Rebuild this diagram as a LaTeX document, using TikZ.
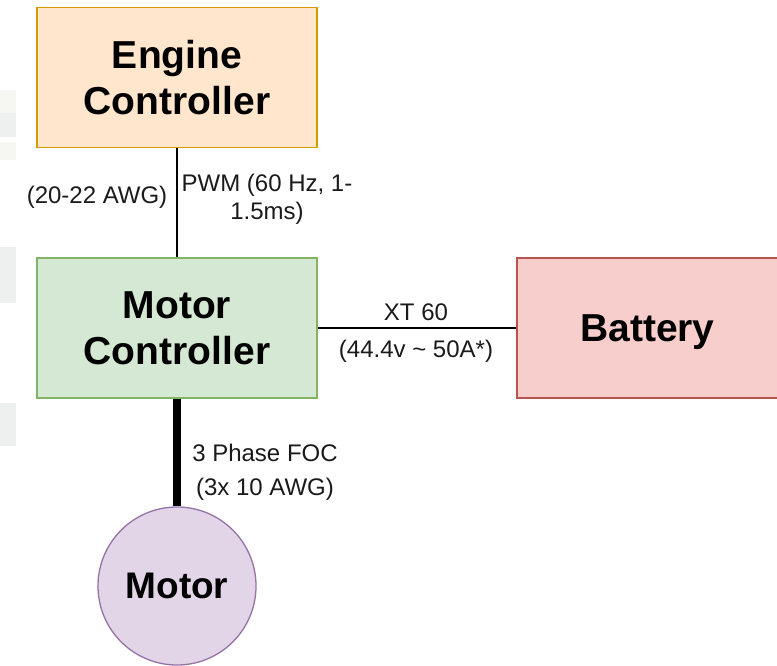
\documentclass[tikz,border=0pt]{standalone}
\usepackage{fontspec}
\setmainfont{Liberation Sans}
\definecolor{engfill}{HTML}{FFE6CC}
\definecolor{engdraw}{HTML}{D79B00}
\definecolor{mcfill}{HTML}{D5E8D4}
\definecolor{mcdraw}{HTML}{82B366}
\definecolor{batfill}{HTML}{F8CECC}
\definecolor{batdraw}{HTML}{B85450}
\definecolor{motfill}{HTML}{E1D5E7}
\definecolor{motdraw}{HTML}{9673A6}
\definecolor{stripA}{HTML}{EEF0F0}
\definecolor{stripB}{HTML}{F6F6F2}
\definecolor{labtext}{HTML}{1A1A1A}
\begin{document}
\begin{tikzpicture}[x=1pt,y=-1pt,
  box/.style={rectangle, minimum width=280pt, minimum height=140pt, line width=1.3pt, inner sep=0pt, align=center,
    font=\fontsize{39}{46}\selectfont\bfseries},
  lab/.style={align=center, text=labtext, inner sep=0pt, font=\fontsize{24}{28}\selectfont},
  wire/.style={line width=1.3pt, draw=black},
  thickwire/.style={line width=8pt, draw=black}]
\useasboundingbox (0,0) rectangle (777,666);
% faint background strips at the left edge
\fill[stripB] (0,90) rectangle (16,113);
\fill[stripA] (0,113) rectangle (16,137);
\fill[stripB] (0,142) rectangle (16,160);
\fill[stripA] (0,247) rectangle (16,303);
\fill[stripA] (0,403) rectangle (16,446);
% nodes
\node[box, fill=engfill, draw=engdraw] (eng) at (177,77.5) {Engine\\Controller};
\node[box, fill=mcfill, draw=mcdraw] (mc) at (177,328) {Motor\\Controller};
\node[box, fill=batfill, draw=batdraw, minimum width=261pt, text depth=0pt] (bat) at (647.5,328) {Battery};
\node[circle, fill=motfill, draw=motdraw, line width=1.3pt, minimum size=158pt, inner sep=0pt,
  font=\fontsize{37}{44}\selectfont\bfseries] (mot) at (177,586) {Motor};
% connectors
\draw[wire] (eng.south) -- (mc.north);
\draw[wire] (mc.east) -- (bat.west);
\draw[thickwire] (mc.south) -- (mot.north);
% labels
\node[lab] (l1) at (97,197) {(20-22 AWG)};
\node[lab] (l2) at (267,199) {PWM (60 Hz, 1-\\1.5ms)};
\node[lab] (l3) at (416,312) {XT 60};
\node[lab] (l4) at (416,351) {(44.4v \textasciitilde{} 50A*)};
\node[lab] (l5) at (265,453) {3 Phase FOC};
\node[lab] (l6) at (265,489) {(3x 10 AWG)};
\end{tikzpicture}
\end{document}
